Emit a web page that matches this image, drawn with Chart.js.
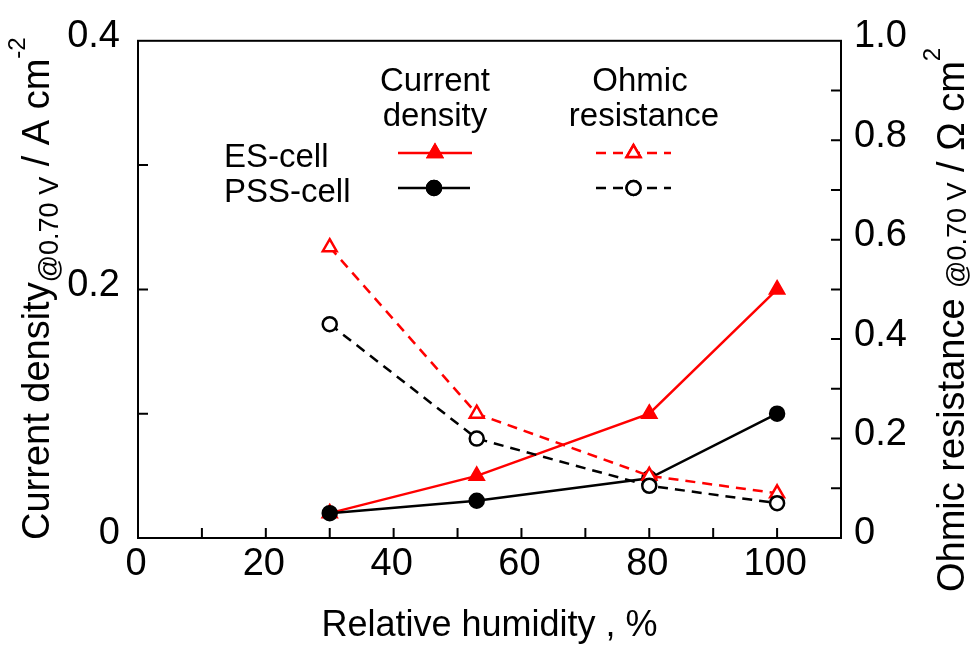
<!DOCTYPE html>
<html>
<head>
<meta charset="utf-8">
<script src="https://cdn.jsdelivr.net/npm/chart.js@4.4.0/dist/chart.umd.min.js"></script>
<style>
  body { margin: 0; background: #fff; }
  canvas { display: block; }
</style>
</head>
<body>
<canvas id="rhChart" width="973" height="648"></canvas>
<script>
// data
const humidity = [30, 53, 80, 100];
const esCurrent = [0.02, 0.05, 0.1, 0.2];
const pssCurrent = [0.02, 0.03, 0.048, 0.1];
const esOhmic = [0.585, 0.25, 0.125, 0.09];
const pssOhmic = [0.43, 0.2, 0.105, 0.07];

const xLabels = [0, 20, 40, 60, 80, 100];
const leftLabels = [0, 0.2, 0.4];
const rightLabels = [0, 0.2, 0.4, 0.6, 0.8, 1.0];

const FONT = "'Liberation Sans', Arial, sans-serif";
const RED = '#ff0000';

function pts(ys) {
    return humidity.map((x, i) => ({ x: x, y: ys[i] }));
}
function near(list, v) {
    return list.some(t => Math.abs(t - v) < 1e-6);
}
function tenths(max, step) {
    let out = [];
    for (let i = 0; i <= Math.round(max / step); i++) out.push({ value: +(i * step).toFixed(4) });
    return out;
}

// inward ticks + frame
const framePlugin = {
    id: 'frame',
    afterDatasetsDraw(chart) {
        const { ctx, chartArea: a, scales } = chart;
        ctx.save();
        ctx.strokeStyle = '#000';
        ctx.lineWidth = 2;
        ctx.strokeRect(a.left, a.top, a.right - a.left, a.bottom - a.top);
        ctx.beginPath();
        scales.x.ticks.forEach(t => {
            if (t.value <= 0 || t.value >= 110) return;
            let px = scales.x.getPixelForValue(t.value);
            ctx.moveTo(px, a.bottom);
            ctx.lineTo(px, a.bottom - 10);
        });
        scales.y.ticks.forEach(t => {
            if (t.value <= 0 || t.value >= 0.4) return;
            let py = scales.y.getPixelForValue(t.value);
            ctx.moveTo(a.left, py);
            ctx.lineTo(a.left + 10, py);
        });
        scales.y1.ticks.forEach(t => {
            if (t.value <= 0 || t.value >= 1) return;
            let py = scales.y1.getPixelForValue(t.value);
            ctx.moveTo(a.right, py);
            ctx.lineTo(a.right - 10, py);
        });
        ctx.stroke();
        ctx.restore();
    }
};

// rotated axis titles with sub/superscripts
function drawRich(ctx, x, y, parts) {
    ctx.save();
    ctx.translate(x, y);
    ctx.rotate(-Math.PI / 2);
    ctx.textBaseline = 'alphabetic';
    ctx.textAlign = 'left';
    let cx = 0;
    parts.forEach(p => {
        ctx.font = p.size + 'px ' + FONT;
        ctx.fillStyle = '#000';
        ctx.fillText(p.text, cx, p.dy || 0);
        cx += ctx.measureText(p.text).width;
    });
    ctx.restore();
}

const titlePlugin = {
    id: 'titles',
    afterDraw(chart) {
        const ctx = chart.ctx;
        drawRich(ctx, 49, 540, [
            { text: 'Current density', size: 38 },
            { text: '@0.70 V', size: 27, dy: 9 },
            { text: ' / A cm', size: 38 },
            { text: '-2', size: 24, dy: -24 }
        ]);
        drawRich(ctx, 964, 592, [
            { text: 'Ohmic resistance ', size: 38 },
            { text: '@0.70 V', size: 27, dy: 2 },
            { text: ' / \u03A9 cm', size: 38 },
            { text: '2', size: 24, dy: -24 }
        ]);
    }
};

// hand-placed legend like the figure
const legendPlugin = {
    id: 'legendBox',
    afterDraw(chart) {
        const ctx = chart.ctx;
        ctx.save();
        ctx.fillStyle = '#000';
        ctx.font = '33px ' + FONT;
        ctx.textAlign = 'center';
        ctx.textBaseline = 'middle';
        ctx.fillText('Current', 435, 82);
        ctx.fillText('density', 435, 117);
        ctx.fillText('Ohmic', 640, 82);
        ctx.fillText('resistance', 644, 117);
        ctx.textAlign = 'left';
        ctx.fillText('ES-cell', 224, 158);
        ctx.fillText('PSS-cell', 224, 193);

        const rows = [
            { y: 153, x0: 398, x1: 472, color: RED, dash: [], style: 'triangle', fill: RED },
            { y: 153, x0: 596, x1: 671, color: RED, dash: [10, 7], style: 'triangle', fill: '#fff' },
            { y: 188, x0: 398, x1: 470, color: '#000', dash: [], style: 'circle', fill: '#000' },
            { y: 188, x0: 596, x1: 671, color: '#000', dash: [10, 7], style: 'circle', fill: '#fff' }
        ];
        rows.forEach(r => {
            ctx.strokeStyle = r.color;
            ctx.lineWidth = 2.5;
            ctx.setLineDash(r.dash);
            ctx.beginPath();
            ctx.moveTo(r.x0, r.y);
            ctx.lineTo(r.x1, r.y);
            ctx.stroke();
            ctx.setLineDash([]);
            ctx.fillStyle = r.fill;
            Chart.helpers.drawPoint(ctx, {
                pointStyle: r.style, radius: r.style === 'triangle' ? 8 : 7,
                rotation: 0, borderWidth: 2.5
            }, (r.x0 + r.x1) / 2, r.y);
            ctx.fill();
            ctx.stroke();
        });
        ctx.restore();
    }
};

const tickFont = { family: FONT, size: 38 };

new Chart(document.getElementById('rhChart').getContext('2d'), {
    type: 'line',
    data: {
        datasets: [{
            label: 'PSS-cell ohmic',
            data: pts(pssOhmic),
            yAxisID: 'y1',
            borderColor: '#000',
            borderWidth: 2.5,
            borderDash: [10, 7],
            pointStyle: 'circle',
            pointRadius: 7,
            pointBorderWidth: 2.5,
            pointBackgroundColor: '#fff',
            pointBorderColor: '#000'
        }, {
            label: 'ES-cell ohmic',
            data: pts(esOhmic),
            yAxisID: 'y1',
            borderColor: RED,
            borderWidth: 2.5,
            borderDash: [10, 7],
            pointStyle: 'triangle',
            pointRadius: 8,
            pointBorderWidth: 2.5,
            pointBackgroundColor: '#fff',
            pointBorderColor: RED
        }, {
            label: 'PSS-cell current',
            data: pts(pssCurrent),
            yAxisID: 'y',
            borderColor: '#000',
            borderWidth: 2.5,
            pointStyle: 'circle',
            pointRadius: 7,
            pointBackgroundColor: '#000',
            pointBorderColor: '#000'
        }, {
            label: 'ES-cell current',
            data: pts(esCurrent),
            yAxisID: 'y',
            borderColor: RED,
            borderWidth: 2.5,
            pointStyle: 'triangle',
            pointRadius: 8,
            pointBackgroundColor: RED,
            pointBorderColor: RED
        }]
    },
    options: {
        responsive: false,
        animation: false,
        devicePixelRatio: 1,
        layout: { padding: { top: 35, bottom: 0, left: 0, right: 0 } },
        plugins: { legend: { display: false }, tooltip: { enabled: false } },
        scales: {
            x: {
                type: 'linear',
                min: 0,
                max: 110,
                afterBuildTicks: s => { s.ticks = tenths(110, 10); },
                afterFit: s => { s.height = 110; },
                grid: { display: false, drawTicks: false },
                border: { display: false },
                ticks: {
                    color: '#000',
                    font: tickFont,
                    padding: 4,
                    labelOffset: -2,
                    maxRotation: 0,
                    autoSkip: false,
                    callback: v => near(xLabels, v) ? String(v) : ''
                },
                title: {
                    display: true,
                    text: 'Relative humidity , %',
                    color: '#000',
                    font: { family: FONT, size: 36 },
                    padding: { top: 0, bottom: 0 }
                }
            },
            y: {
                position: 'left',
                min: 0,
                max: 0.4,
                afterBuildTicks: s => { s.ticks = tenths(0.4, 0.1); },
                afterFit: s => { s.width = 138; },
                grid: { display: false, drawTicks: false },
                border: { display: false },
                ticks: {
                    color: '#000',
                    font: tickFont,
                    padding: 18,
                    labelOffset: -4,
                    autoSkip: false,
                    callback: v => near(leftLabels, v) ? (v === 0 ? '0' : v.toFixed(1)) : ''
                }
            },
            y1: {
                position: 'right',
                min: 0,
                max: 1,
                afterBuildTicks: s => { s.ticks = tenths(1, 0.1); },
                afterFit: s => { s.width = 132; },
                grid: { display: false, drawTicks: false },
                border: { display: false },
                ticks: {
                    color: '#000',
                    font: tickFont,
                    padding: 13,
                    labelOffset: -4,
                    autoSkip: false,
                    callback: v => near(rightLabels, v) ? (v === 0 ? '0' : v.toFixed(1)) : ''
                }
            }
        }
    },
    plugins: [framePlugin, titlePlugin, legendPlugin]
});
</script>
</body>
</html>
